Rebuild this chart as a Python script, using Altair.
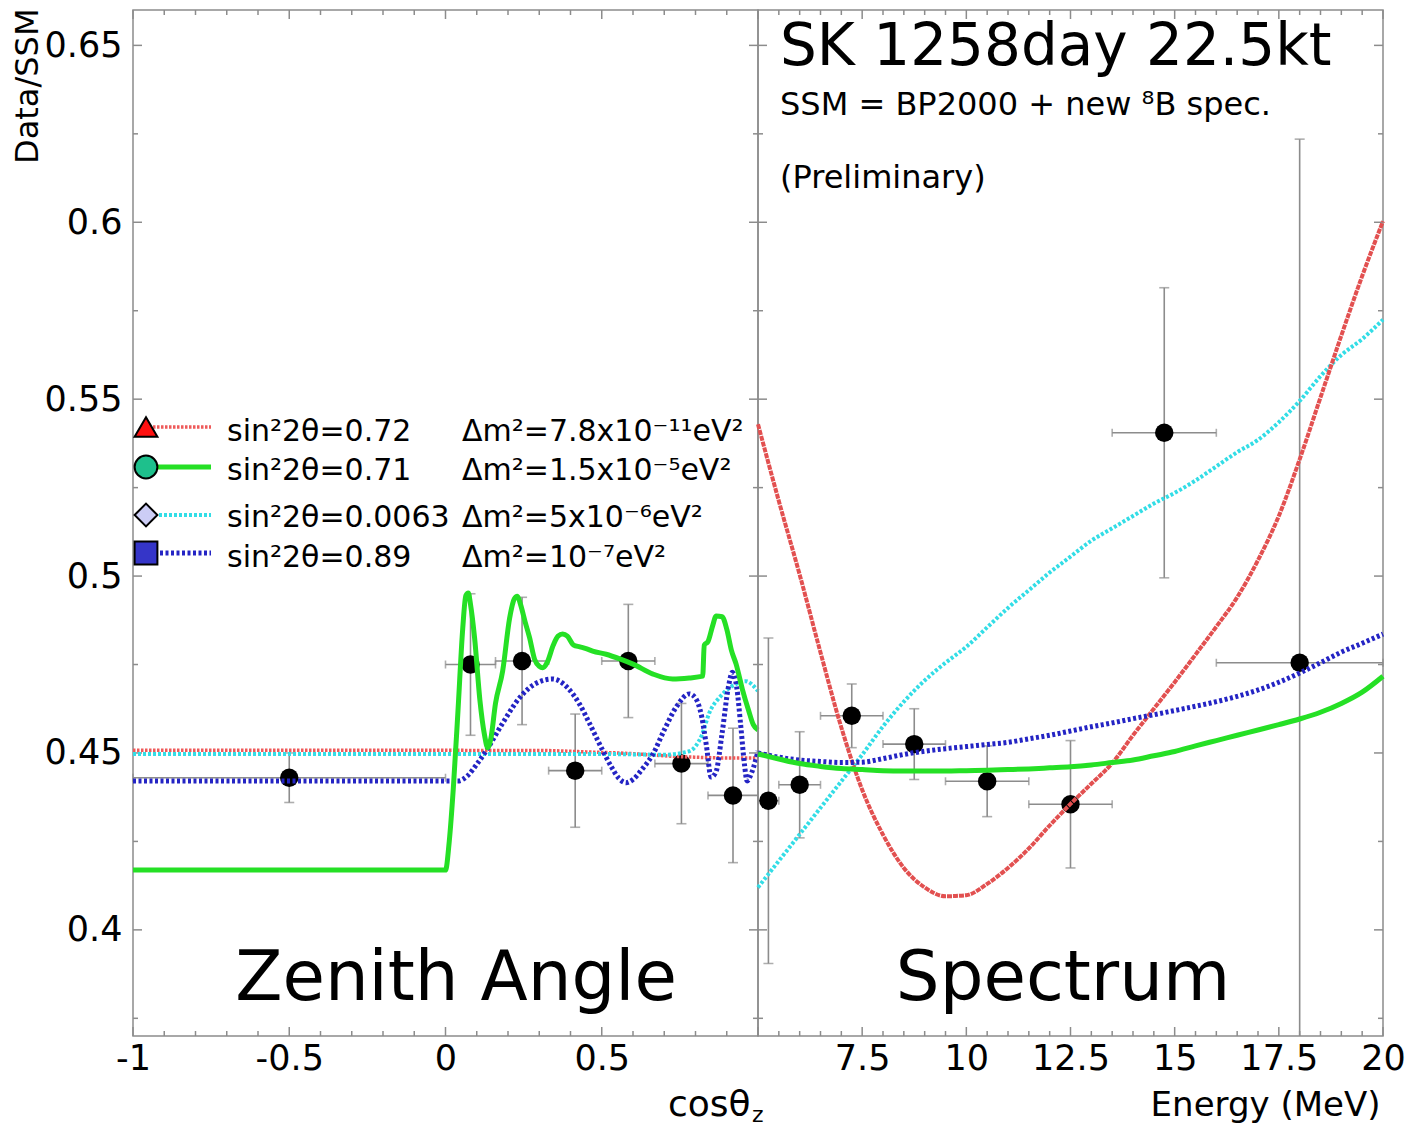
import altair as alt
import pandas as pd

FONT = "DejaVu Sans"
GRAY = "#8c8c8c"
PANEL_W, PANEL_H = 625, 1026

# ---------------- measurements ----------------
# zenith-angle bins: centre, bin edges, Data/SSM and 1-sigma error
zen_cos = [-0.50, 0.08, 0.245, 0.415, 0.585, 0.755, 0.92]
zen_lo = [-1.00, 0.00, 0.16, 0.33, 0.50, 0.67, 0.84]
zen_hi = [0.00, 0.16, 0.33, 0.50, 0.67, 0.84, 1.00]
zen_val = [0.443, 0.475, 0.476, 0.445, 0.476, 0.447, 0.438]
zen_err = [0.007, 0.020, 0.018, 0.016, 0.016, 0.017, 0.019]

# recoil-electron energy bins
spec_e = [5.25, 6.0, 7.25, 8.75, 10.5, 12.5, 14.75, 18.0]
spec_lo = [5.0, 5.5, 6.5, 8.0, 9.5, 11.5, 13.5, 16.0]
spec_hi = [5.5, 6.5, 8.0, 9.5, 11.5, 13.5, 16.0, 20.0]
spec_val = [0.4365, 0.441, 0.4605, 0.4525, 0.442, 0.4355, 0.5405, 0.4755]
spec_err = [0.046, 0.015, 0.009, 0.010, 0.010, 0.018, 0.041, 0.148]

# ---------------- oscillation expectations ----------------
# zenith-angle dependence
red_zen_cos = [-1.0, 0.3, 0.45, 0.6, 0.7, 0.8, 0.9, 1.0]
red_zen_val = [0.4508, 0.4507, 0.4503, 0.4498, 0.4492, 0.4488, 0.4486, 0.4486]

green_zen_cos = [-1.0, 0.0, 0.012, 0.025, 0.04, 0.055, 0.065, 0.073, 0.08, 0.093,
                 0.11, 0.125, 0.135, 0.145, 0.16, 0.183, 0.205, 0.22, 0.23, 0.24,
                 0.255, 0.269, 0.285, 0.3, 0.311, 0.325, 0.345, 0.36, 0.375, 0.39,
                 0.41, 0.43, 0.45, 0.471, 0.514, 0.56, 0.6, 0.664, 0.727, 0.78,
                 0.823, 0.828, 0.84, 0.855, 0.866, 0.885, 0.9, 0.915, 0.93, 0.95,
                 0.97, 0.985, 1.0]
green_zen_val = [0.4169, 0.4169, 0.425, 0.440, 0.462, 0.485, 0.4945, 0.4952, 0.492, 0.4826,
                 0.465, 0.455, 0.4515, 0.454, 0.464, 0.4732, 0.488, 0.4935, 0.4943, 0.492,
                 0.487, 0.4826, 0.4765, 0.4745, 0.4741, 0.4755, 0.4805, 0.483, 0.4836, 0.483,
                 0.4805, 0.480, 0.4795, 0.4788, 0.4779, 0.4765, 0.4751, 0.4723, 0.4709, 0.4712,
                 0.4717, 0.4805, 0.4815, 0.486, 0.4887, 0.4885, 0.485, 0.479, 0.4751, 0.468,
                 0.462, 0.458, 0.4565]

cyan_zen_cos = [-1.0, 0.5, 0.7, 0.78, 0.82, 0.845, 0.88, 0.93, 0.96, 1.0]
cyan_zen_val = [0.4497, 0.4497, 0.4495, 0.4505, 0.455, 0.4615, 0.466, 0.4695, 0.4703, 0.4675]

blue_zen_cos = [-1.0, 0.04, 0.07, 0.1, 0.13, 0.18, 0.237, 0.29, 0.343, 0.39,
                0.429, 0.46, 0.493, 0.53, 0.555, 0.578, 0.6, 0.63, 0.664, 0.7,
                0.74, 0.78, 0.8, 0.82, 0.835, 0.85, 0.865, 0.885, 0.905, 0.918,
                0.932, 0.945, 0.957, 0.965, 0.98, 1.0]
blue_zen_val = [0.4421, 0.4421, 0.4435, 0.4468, 0.4506, 0.458, 0.4656, 0.4697, 0.4709, 0.4685,
                0.4638, 0.4585, 0.4525, 0.4462, 0.4428, 0.4416, 0.4425, 0.4455, 0.4497, 0.4565,
                0.4632, 0.4667, 0.4655, 0.4602, 0.452, 0.4432, 0.4445, 0.4555, 0.4685, 0.4728,
                0.4685, 0.4575, 0.4465, 0.4421, 0.4445, 0.4505]

# energy dependence
energy_grid = [5.0, 5.5, 6.0, 6.5, 7.0, 7.5, 8.0, 8.5, 9.0, 9.5, 10.0, 10.5, 11.0, 11.5,
               12.0, 12.5, 13.0, 13.5, 14.0, 14.5, 15.0, 15.5, 16.0, 16.5, 17.0, 17.5,
               18.0, 18.5, 19.0, 19.5, 20.0]
red_spec = [0.5429, 0.5212, 0.5004, 0.4784, 0.4572, 0.4396, 0.4269, 0.4175, 0.4120, 0.4095,
            0.4098, 0.4130, 0.4175, 0.4230, 0.4295, 0.4356, 0.4413, 0.4471, 0.4550, 0.4625,
            0.4700, 0.4778, 0.4857, 0.4940, 0.5045, 0.5170, 0.5330, 0.5505, 0.5680, 0.5848,
            0.6003]
green_spec = [0.4497, 0.4483, 0.4470, 0.4462, 0.4456, 0.4453, 0.4450, 0.4449, 0.4449, 0.4449,
              0.4450, 0.4451, 0.4453, 0.4455, 0.4458, 0.4461, 0.4466, 0.4473, 0.4480, 0.4492,
              0.4504, 0.4520, 0.4535, 0.4550, 0.4565, 0.4580, 0.4596, 0.4615, 0.4640, 0.4672,
              0.4717]
cyan_spec = [0.4120, 0.4195, 0.4270, 0.4345, 0.4420, 0.4495, 0.4575, 0.4645, 0.4705, 0.4755,
             0.4800, 0.4855, 0.4910, 0.4960, 0.5010, 0.5055, 0.5100, 0.5135, 0.5170, 0.5205,
             0.5235, 0.5270, 0.5310, 0.5350, 0.5385, 0.5435, 0.5495, 0.5565, 0.5625, 0.5670,
             0.5725]
blue_spec = [0.4500, 0.4488, 0.4480, 0.4476, 0.4473, 0.4474, 0.4484, 0.4496, 0.4505, 0.4512,
             0.4518, 0.4524, 0.4530, 0.4540, 0.4550, 0.4562, 0.4574, 0.4585, 0.4597, 0.4608,
             0.4620, 0.4632, 0.4645, 0.4660, 0.4678, 0.4700, 0.4726, 0.4755, 0.4785, 0.4810,
             0.4836]

# ---------------- legend ----------------
legend_mix = ["sin²2θ=0.72", "sin²2θ=0.71", "sin²2θ=0.0063", "sin²2θ=0.89"]
legend_dm2 = ["Δm²=7.8x10⁻¹¹eV²", "Δm²=1.5x10⁻⁵eV²", "Δm²=5x10⁻⁶eV²", "Δm²=10⁻⁷eV²"]
legend_shape = ["triangle-up", "circle", "diamond", "square"]
legend_fill = ["#ff1010", "#1ec08c", "#cccdf5", "#3535c8"]

# ---------------- axes ----------------
y_labels = [0.4, 0.45, 0.5, 0.55, 0.6, 0.65]
y_minor = [0.375, 0.425, 0.475, 0.525, 0.575, 0.625]
cos_labels = [-1, -0.5, 0, 0.5]
cos_major = [-1, -0.5, 0, 0.5, 1]
cos_minor = [-0.9, -0.8, -0.7, -0.6, -0.4, -0.3, -0.2, -0.1,
             0.1, 0.2, 0.3, 0.4, 0.6, 0.7, 0.8, 0.9]
e_labels = [7.5, 10, 12.5, 15, 17.5, 20]
e_major = [5, 7.5, 10, 12.5, 15, 17.5, 20]
e_minor = [5.5, 6, 6.5, 7, 8, 8.5, 9, 9.5, 10.5, 11, 11.5, 12, 13, 13.5, 14, 14.5,
           15.5, 16, 16.5, 17, 18, 18.5, 19, 19.5]

Y_SCALE = alt.Scale(domain=[0.37, 0.66], nice=False, zero=False)
COS_SCALE = alt.Scale(domain=[-1.0, 1.0], nice=False, zero=False)
E_SCALE = alt.Scale(domain=[5.0, 20.0], nice=False, zero=False)

# line styles for the four solutions
STYLE = {
    "red": dict(color="#ee5a5a", strokeWidth=3.5, strokeDash=[2.5, 1.5]),
    "red_spec": dict(color="#e25050", strokeWidth=4, strokeDash=[5, 1]),
    "green": dict(color="#25e025", strokeWidth=5),
    "cyan": dict(color="#33dde6", strokeWidth=4, strokeDash=[3, 2]),
    "blue": dict(color="#2424c4", strokeWidth=5, strokeDash=[3, 2.5]),
}

label_expr = "'' + datum.value"
cos_axis = alt.Axis(values=cos_labels, labelExpr=label_expr, labelFontSize=35,
                    labelPadding=5, labelFlush=False, title="cosθ", titleFontSize=36,
                    titleAlign="right", titleBaseline="alphabetic",
                    titleX=617, titleY=79)
y_axis = alt.Axis(values=y_labels, labelExpr=label_expr, labelFontSize=35,
                  labelPadding=11, labelFlush=False, title="Data/SSM", titleFontSize=32,
                  titleAngle=270, titleAlign="right", titleBaseline="alphabetic",
                  titleX=-96, titleY=-2)
e_axis = alt.Axis(values=e_labels, labelExpr=label_expr, labelFontSize=35,
                  labelPadding=5, labelFlush=False, title="Energy (MeV)", titleFontSize=34,
                  titleAlign="right", titleBaseline="alphabetic",
                  titleX=622, titleY=79)


class Panel:
    """Shared scales and axes of one panel; every layer carries the same axis spec."""

    def __init__(self, xscale, xaxis, yaxis):
        self.xscale, self.xaxis, self.yaxis = xscale, xaxis, yaxis

    def X(self, field):
        return alt.X(f"{field}:Q", scale=self.xscale, axis=self.xaxis)

    def Y(self, field):
        return alt.Y(f"{field}:Q", scale=Y_SCALE, axis=self.yaxis)

    def ticks(self, x_major, x_minor):
        """Short inward ticks on all four sides."""
        layers = []
        for vals, ln in ((y_labels, 9), (y_minor, 5)):
            df = pd.DataFrame({"v": vals})
            for x0, x1 in ((0, ln), (PANEL_W - ln, PANEL_W)):
                layers.append(alt.Chart(df).mark_rule(color=GRAY, strokeWidth=1.5).encode(
                    y=self.Y("v"), x=alt.value(x0), x2=alt.value(x1)))
        for vals, ln in ((x_major, 9), (x_minor, 5)):
            df = pd.DataFrame({"v": vals})
            for y0, y1 in ((PANEL_H - ln, PANEL_H), (0, ln)):
                layers.append(alt.Chart(df).mark_rule(color=GRAY, strokeWidth=1.5).encode(
                    x=self.X("v"), y=alt.value(y0), y2=alt.value(y1)))
        return layers

    def measurements(self, xs, lo, hi, val, err):
        df = pd.DataFrame({
            "x": xs, "lo": lo, "hi": hi, "y": val,
            "ylo": [v - e for v, e in zip(val, err)],
            "yhi": [v + e for v, e in zip(val, err)],
        })
        base = alt.Chart(df)
        vbar = base.mark_rule(color=GRAY, strokeWidth=1.6, clip=True).encode(
            x=self.X("x"), y=self.Y("ylo"), y2="yhi")
        hbar = base.mark_rule(color=GRAY, strokeWidth=1.6).encode(
            x=self.X("lo"), x2="hi", y=self.Y("y"))
        caps = [
            base.mark_tick(orient="horizontal", size=10, thickness=1.6, color=GRAY,
                           clip=True).encode(x=self.X("x"), y=self.Y(f))
            for f in ("ylo", "yhi")
        ] + [
            base.mark_tick(orient="vertical", size=8, thickness=1.6, color=GRAY).encode(
                x=self.X(f), y=self.Y("y"))
            for f in ("lo", "hi")
        ]
        points = base.mark_point(filled=True, shape="circle", size=340, color="black",
                                 opacity=1).encode(x=self.X("x"), y=self.Y("y"))
        return [vbar, hbar] + caps + [points]

    def curve(self, xs, ys, style):
        df = pd.DataFrame({"x": xs, "y": ys})
        return alt.Chart(df).mark_line(interpolate="monotone", **STYLE[style]).encode(
            x=self.X("x"), y=self.Y("y"))


def label(text, x, y, size, align="left"):
    return alt.Chart(pd.DataFrame({"t": [text]})).mark_text(
        align=align, baseline="alphabetic", fontSize=size, color="black",
        font=FONT).encode(text="t:N", x=alt.value(x), y=alt.value(y))


# ---- legend drawn inside the zenith-angle panel ----
legend_layers = []
row_sym_y = [417, 457, 505, 543]
row_txt_y = [431, 470, 517, 557]
for i, style in enumerate(["red", "green", "cyan", "blue"]):
    one = pd.DataFrame({"k": [i]})
    legend_layers.append(alt.Chart(one).mark_rule(**STYLE[style]).encode(
        x=alt.value(16), x2=alt.value(78), y=alt.value(row_sym_y[i])))
    legend_layers.append(alt.Chart(one).mark_point(
        shape=legend_shape[i], filled=True, fill=legend_fill[i], stroke="black",
        strokeWidth=2, size=520, opacity=1).encode(
        x=alt.value(13), y=alt.value(row_sym_y[i])))
    legend_layers.append(label(legend_mix[i], 94, row_txt_y[i], 30))
    legend_layers.append(label(legend_dm2[i], 329, row_txt_y[i], 30))

zp = Panel(COS_SCALE, cos_axis, y_axis)
zenith = alt.layer(
    *zp.measurements(zen_cos, zen_lo, zen_hi, zen_val, zen_err),
    *zp.ticks(cos_major, cos_minor),
    zp.curve(red_zen_cos, red_zen_val, "red"),
    zp.curve(cyan_zen_cos, cyan_zen_val, "cyan"),
    zp.curve(blue_zen_cos, blue_zen_val, "blue"),
    zp.curve(green_zen_cos, green_zen_val, "green"),
    *legend_layers,
    label("Zenith Angle", 323, 990, 69, align="center"),
    label("z", 619, 1112, 22),
).properties(width=PANEL_W, height=PANEL_H)

sp = Panel(E_SCALE, e_axis, None)
spectrum = alt.layer(
    *sp.measurements(spec_e, spec_lo, spec_hi, spec_val, spec_err),
    *sp.ticks(e_major, e_minor),
    sp.curve(energy_grid, cyan_spec, "cyan"),
    sp.curve(energy_grid, red_spec, "red_spec"),
    sp.curve(energy_grid, blue_spec, "blue"),
    sp.curve(energy_grid, green_spec, "green"),
    label("SK 1258day 22.5kt", 22, 55, 58),
    label("SSM = BP2000 + new ⁸B spec.", 22, 105, 32),
    label("(Preliminary)", 22, 178, 32),
    label("Spectrum", 305, 990, 69, align="center"),
).properties(width=PANEL_W, height=PANEL_H)

chart = alt.hconcat(zenith, spectrum, spacing=0, bounds="flush").properties(
    padding={"left": 10, "top": 7, "right": 5, "bottom": 5}
).configure_view(
    stroke=GRAY, strokeWidth=1.5
).configure_axis(
    labelFont=FONT, titleFont=FONT, labelColor="black", titleColor="black",
    titleFontWeight="normal", grid=False, domain=False, ticks=False, tickSize=0
).configure_text(font=FONT)

chart.save("out.html", embed_options={"renderer": "svg", "actions": False})
